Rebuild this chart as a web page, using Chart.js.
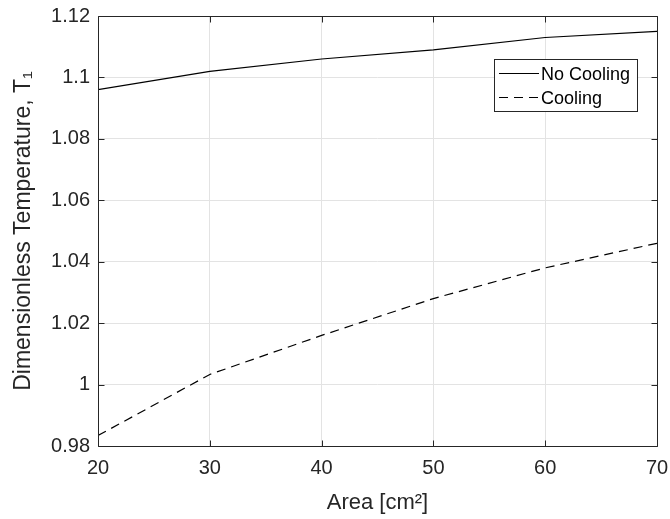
<!DOCTYPE html>
<html>
<head>
<meta charset="utf-8">
<script src="https://cdn.jsdelivr.net/npm/chart.js@4"></script>
<style>
  html, body { margin: 0; padding: 0; background: #ffffff; }
  #wrap { width: 670px; height: 519px; }
</style>
</head>
<body>
<div id="wrap"><canvas id="c" width="670" height="519"></canvas></div>
<script>
const areas = [20, 30, 40, 50, 60, 70];
const noCooling = [1.096, 1.102, 1.106, 1.109, 1.113, 1.115];
const cooling = [0.9834, 1.0033, 1.016, 1.028, 1.038, 1.046];
const xTicks = [20, 30, 40, 50, 60, 70];
const yTicks = [0.98, 1.00, 1.02, 1.04, 1.06, 1.08, 1.10, 1.12];
const seriesNames = ['No Cooling', 'Cooling'];

const INK = '#262626';
const FONT = '"Liberation Sans", Arial, Helvetica, sans-serif';

const boxPlugin = {
  id: 'matlabBox',
  afterDatasetsDraw(chart) {
    const ctx = chart.ctx;
    const a = chart.chartArea;
    const xs = chart.scales.x, ys = chart.scales.y;
    ctx.save();
    ctx.strokeStyle = INK;
    ctx.lineWidth = 1;
    const L = Math.round(a.left) + 0.5, R = Math.round(a.right) + 0.5;
    const T = Math.round(a.top) + 0.5, B = Math.round(a.bottom) + 0.5;
    ctx.beginPath();
    ctx.rect(L, T, R - L, B - T);
    ctx.stroke();
    const tl = 6;
    ctx.beginPath();
    xTicks.forEach(v => {
      const px = Math.round(xs.getPixelForValue(v)) + 0.5;
      ctx.moveTo(px, B); ctx.lineTo(px, B - tl);
      ctx.moveTo(px, T); ctx.lineTo(px, T + tl);
    });
    yTicks.forEach(v => {
      const py = Math.round(ys.getPixelForValue(v)) + 0.5;
      ctx.moveTo(L, py); ctx.lineTo(L + tl, py);
      ctx.moveTo(R, py); ctx.lineTo(R - tl, py);
    });
    ctx.stroke();

    // legend
    const lx = 494.5, ly = 59.5, lw = 143, lh = 52;
    ctx.fillStyle = '#ffffff';
    ctx.fillRect(lx, ly, lw, lh);
    ctx.strokeStyle = INK;
    ctx.strokeRect(lx, ly, lw, lh);
    const rows = [73.5, 97.5];
    chart.data.datasets.forEach((ds, i) => {
      ctx.beginPath();
      ctx.setLineDash(ds.borderDash || []);
      ctx.lineWidth = 1.2;
      ctx.strokeStyle = '#000000';
      ctx.moveTo(499, rows[i]);
      ctx.lineTo(539, rows[i]);
      ctx.stroke();
      ctx.setLineDash([]);
      ctx.fillStyle = '#000000';
      ctx.font = '18px ' + FONT;
      ctx.textAlign = 'left';
      ctx.textBaseline = 'middle';
      ctx.fillText(ds.label, 541, rows[i] + 1.5);
    });
    ctx.restore();
  }
};

new Chart(document.getElementById('c'), {
  type: 'line',
  data: {
    datasets: [
      {
        label: seriesNames[0],
        data: areas.map((x, i) => ({ x: x, y: noCooling[i] })),
        borderColor: '#000000',
        borderWidth: 1.2,
        pointRadius: 0,
        tension: 0,
        fill: false
      },
      {
        label: seriesNames[1],
        data: areas.map((x, i) => ({ x: x, y: cooling[i] })),
        borderColor: '#000000',
        borderWidth: 1.2,
        borderDash: [9, 6],
        pointRadius: 0,
        tension: 0,
        fill: false
      }
    ]
  },
  options: {
    responsive: false,
    animation: false,
    devicePixelRatio: 1,
    layout: { padding: { left: 0, right: 13, top: 16, bottom: 0 } },
    plugins: {
      legend: { display: false },
      tooltip: { enabled: false }
    },
    scales: {
      x: {
        type: 'linear',
        min: 20, max: 70,
        afterBuildTicks(s) { s.ticks = xTicks.map(v => ({ value: v })); },
        afterFit(s) { s.height = 73; s.paddingLeft = 0; s.paddingRight = 0; },
        grid: { color: '#e3e3e3', lineWidth: 1, drawTicks: false },
        border: { display: false },
        ticks: {
          color: INK, padding: 10, maxRotation: 0,
          font: { family: FONT, size: 20 },
          callback: v => String(v)
        },
        title: {
          display: true,
          text: 'Area [cm²]',
          color: INK,
          font: { family: FONT, size: 22 },
          padding: { top: 0, bottom: 3 }
        }
      },
      y: {
        type: 'linear',
        min: 0.98, max: 1.12,
        afterBuildTicks(s) { s.ticks = yTicks.map(v => ({ value: v })); },
        afterFit(s) { s.width = 98; s.paddingTop = 0; s.paddingBottom = 0; },
        grid: { color: '#e3e3e3', lineWidth: 1, drawTicks: false },
        border: { display: false },
        ticks: {
          color: INK, padding: 8,
          font: { family: FONT, size: 20 },
          callback: v => String(parseFloat(Number(v).toFixed(2)))
        },
        title: {
          display: true,
          text: 'Dimensionless Temperature, T₁',
          color: INK,
          font: { family: FONT, size: 23 },
          padding: { top: 10, bottom: 0 }
        }
      }
    }
  },
  plugins: [boxPlugin]
});
</script>
</body>
</html>
